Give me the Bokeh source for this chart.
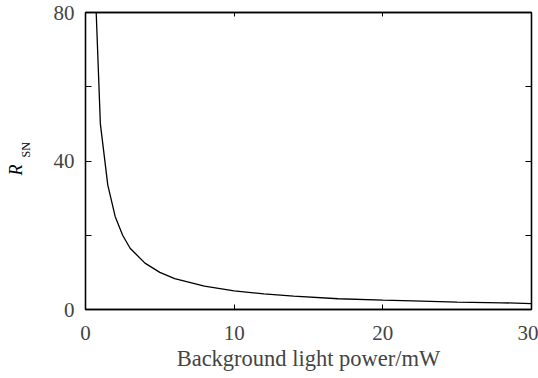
from bokeh.plotting import figure
from bokeh.models import Range1d, LinearAxis, FixedTicker, Title
from bokeh.embed import file_html
from bokeh.resources import INLINE

# Data
power_mw = [0.72, 1.0, 1.5, 2.0, 2.5, 3.0, 4.0, 5.0, 6.0, 8.0, 10.0, 12.0, 14.0, 17.0, 20.0, 22.0, 25.0, 28.0, 30.0]
r_sn = [80.0, 50.0, 33.5, 25.0, 20.0, 16.5, 12.5, 10.0, 8.3, 6.3, 5.0, 4.2, 3.6, 2.9, 2.5, 2.3, 2.0, 1.8, 1.6]

x_ticks = [0, 10, 20, 30]
y_ticks = [0, 40, 80]
y_minor_ticks = [20, 40, 60]
right_ticks = [20, 40, 60]
top_ticks = [10, 20]

FONT = "Liberation Serif"

p = figure(width=538, height=378, output_backend="svg", toolbar_location=None,
           x_range=Range1d(0, 30), y_range=Range1d(0, 80),
           min_border_left=85, min_border_right=7, min_border_top=12, min_border_bottom=69)
p.xgrid.visible = False
p.ygrid.visible = False
p.outline_line_color = "black"
p.outline_line_width = 1.3
p.background_fill_color = "white"
p.border_fill_color = "white"

p.line(power_mw, r_sn, line_color="black", line_width=1.3)

for ax in p.xaxis:
    ax.ticker = FixedTicker(ticks=x_ticks)
    ax.axis_label = "Background light power/mW"
    ax.axis_label_text_font = FONT
    ax.axis_label_text_font_style = "normal"
    ax.axis_label_text_font_size = "22.5px"
    ax.axis_label_standoff = 3
    ax.major_label_text_font = FONT
    ax.major_label_text_font_size = "21px"
    ax.major_label_standoff = 16
    ax.major_tick_in = 5
    ax.major_tick_out = 0
    ax.minor_tick_in = 0
    ax.minor_tick_out = 0
    ax.axis_line_color = "black"
    ax.axis_line_width = 1.3

for ax in p.yaxis:
    ax.ticker = FixedTicker(ticks=y_ticks, minor_ticks=y_minor_ticks)
    ax.major_label_text_font = FONT
    ax.major_label_text_font_size = "21px"
    ax.major_label_standoff = 11
    ax.major_label_orientation = "horizontal"
    ax.major_tick_in = 0
    ax.major_tick_out = 0
    ax.minor_tick_in = 6
    ax.minor_tick_out = 0
    ax.axis_line_color = "black"
    ax.axis_line_width = 1.3

# right axis with inward ticks, no labels
right = LinearAxis(ticker=FixedTicker(ticks=[], minor_ticks=right_ticks),
                   major_tick_in=0, major_tick_out=0, minor_tick_in=6, minor_tick_out=0,
                   axis_line_color="black", axis_line_width=1.3)
p.add_layout(right, "right")

# top axis with small inward ticks, no labels
top = LinearAxis(ticker=FixedTicker(ticks=[], minor_ticks=top_ticks),
                 major_tick_in=0, major_tick_out=0, minor_tick_in=4, minor_tick_out=0,
                 axis_line_color="black", axis_line_width=1.3)
p.add_layout(top, "above")

# y-axis label: italic R with subscript SN, as vertical titles in the left panel
p.add_layout(Title(text="SN", align="left", offset=152, standoff=31, vertical_align="top",
                   text_font=FONT, text_font_size="12px", text_font_style="normal",
                   text_color="black"), "left")
p.add_layout(Title(text="R", align="left", offset=134, standoff=-45,
                   text_font=FONT, text_font_size="18px", text_font_style="italic",
                   text_color="black"), "left")

open("out.html", "w").write(file_html(p, INLINE))
